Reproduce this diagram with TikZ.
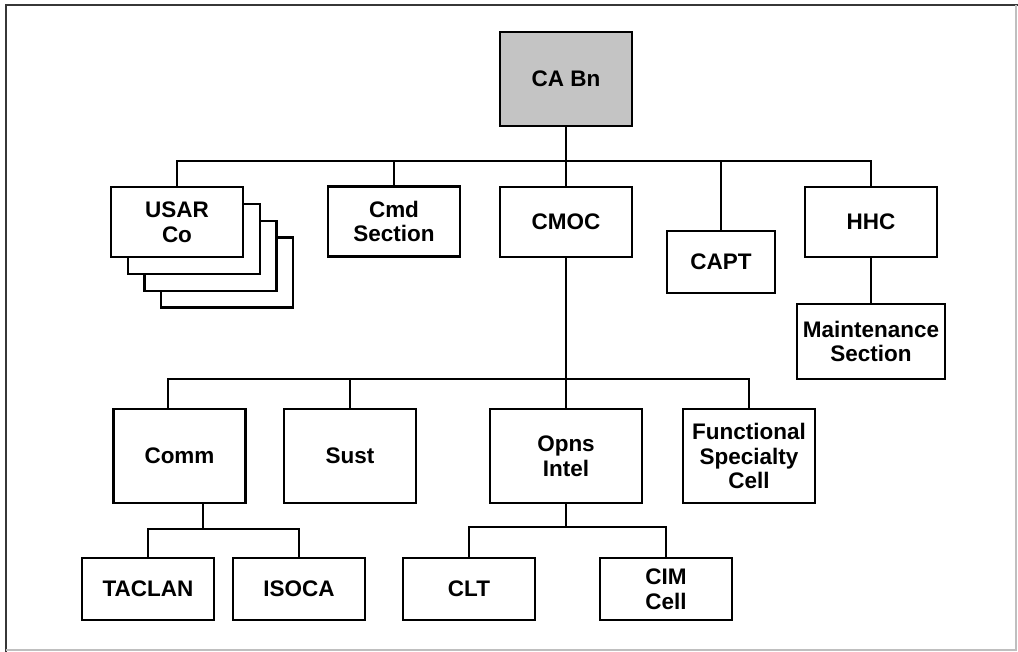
\documentclass[tikz,border=0pt]{standalone}
\usepackage{fontspec}
\setmainfont{Liberation Sans}
\usetikzlibrary{positioning}

\definecolor{hqgray}{RGB}{196,196,196}
\definecolor{framegray}{RGB}{55,55,55}

\begin{document}
\begin{tikzpicture}[x=0.02cm, y=-0.02cm,
		every node/.style={draw, rectangle, line width=1.5pt, inner sep=0pt, align=center,
			font=\fontsize{12.8}{14}\selectfont\bfseries},
		unit/.style={minimum width=2.64cm, minimum height=1.4cm},
		cell/.style={minimum width=2.64cm, minimum height=1.88cm},
		team/.style={minimum width=2.64cm, minimum height=1.24cm},
		link/.style={line width=1.2pt}]
		\useasboundingbox (0,0) rectangle (1018,652);
		% frame
		\draw [framegray, line width=1.6pt] (6,652) -- (6,5) -- (1018,5);
		\draw [black!25, line width=0.8pt] (6,650) -- (1016,650) -- (1016,5);

		% top level
		\node (cabn) [cell, fill=hqgray] at (566,79) {CA Bn};

		% second level
		\node (usar3) [unit, fill=white] at (227,272.5) {};
		\node (usar2) [unit, fill=white] at (210.5,256) {};
		\node (usar1) [unit, fill=white] at (194,239) {};
		\node (usar) [unit, fill=white] at (177,222) {USAR\\Co};
		\node (cmd) [unit] at (394,221.5) {Cmd\\Section};
		\node (cmoc) [unit] at (566,222) {CMOC};
		\node (capt) [unit, minimum width=2.16cm, minimum height=1.24cm] at (721,262) {CAPT};
		\node (hhc) [unit] at (871,222) {HHC};
		\node (maint) [unit, minimum width=2.96cm, minimum height=1.5cm] at (871,341.5) {Maintenance\\Section};

		% CMOC cells
		\node (comm) [cell] at (179.5,456) {Comm};
		\node (sust) [cell] at (350,456) {Sust};
		\node (opns) [cell, minimum width=3.04cm] at (566,456) {Opns\\Intel};
		\node (fsc) [cell] at (749,456) {Functional\\Specialty\\Cell};

		% teams
		\node (taclan) [team] at (148,589) {TACLAN};
		\node (isoca) [team] at (299,589) {ISOCA};
		\node (clt) [team] at (469,589) {CLT};
		\node (cim) [team] at (666,589) {CIM\\Cell};

		% buses
		\coordinate (bus1) at (566,161);
		\coordinate (bus2) at (566,379);
		\coordinate (bus3) at (203,529);
		\coordinate (bus4) at (566,527);

		\draw [link] (cabn) -- (cmoc);
		\draw [link] (usar.north) |- (bus1) -| (hhc.north);
		\draw [link] (cmd.north) -- (cmd.north |- bus1);
		\draw [link] (capt.north) -- (capt.north |- bus1);
		\draw [link] (hhc) -- (maint);

		\draw [link] (cmoc) -- (opns);
		\draw [link] ([xshift=-0.23cm]comm.north) |- (bus2) -| (fsc.north);
		\draw [link] (sust.north) -- (sust.north |- bus2);

		\draw [link] (comm.south -| bus3) -- (bus3);
		\draw [link] (taclan.north) |- (bus3) -| (isoca.north);
		\draw [link] (opns.south) -- (bus4);
		\draw [link] (clt.north) |- (bus4) -| (cim.north);
\end{tikzpicture}
\end{document}
